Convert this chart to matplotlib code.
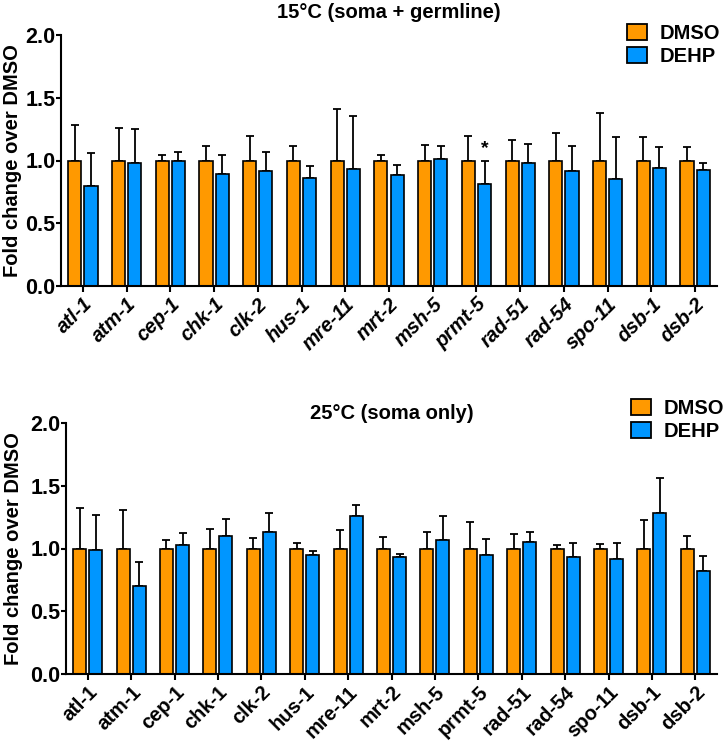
import numpy as np
import matplotlib
matplotlib.use("Agg")
import matplotlib.pyplot as plt
from matplotlib.patches import Patch

plt.rcParams['font.family'] = ['Liberation Sans', 'DejaVu Sans']
plt.rcParams['font.weight'] = 'bold'

genes = ["atl-1", "atm-1", "cep-1", "chk-1", "clk-2", "hus-1", "mre-11", "mrt-2",
         "msh-5", "prmt-5", "rad-51", "rad-54", "spo-11", "dsb-1", "dsb-2"]

# 15°C (soma + germline)
dmso_15 = [1.0] * 15
dmso_15_err = [0.28, 0.256, 0.046, 0.113, 0.195, 0.113, 0.413, 0.044, 0.123, 0.195, 0.163, 0.219, 0.381, 0.185, 0.105]
dehp_15 = [0.80, 0.983, 0.995, 0.89, 0.914, 0.863, 0.935, 0.882, 1.009, 0.813, 0.983, 0.914, 0.855, 0.94, 0.927]
dehp_15_top = [1.06, 1.248, 1.07, 1.04, 1.068, 0.954, 1.352, 0.961, 1.115, 0.996, 1.129, 1.115, 1.19, 1.108, 0.983]

# 25°C (soma only)
dmso_25 = [1.0] * 15
dmso_25_err = [0.325, 0.309, 0.067, 0.152, 0.081, 0.041, 0.144, 0.094, 0.131, 0.213, 0.118, 0.025, 0.033, 0.226, 0.099]
dehp_25 = [0.985, 0.705, 1.03, 1.099, 1.134, 0.946, 1.261, 0.932, 1.068, 0.951, 1.049, 0.935, 0.917, 1.282, 0.821]
dehp_25_top = [1.266, 0.89, 1.126, 1.234, 1.279, 0.98, 1.348, 0.959, 1.261, 1.073, 1.134, 1.041, 1.046, 1.56, 0.938]

sig_15 = {"prmt-5": "*"}

ORANGE = "#FF9900"
BLUE = "#0096FF"

W, H = 724, 743
fig = plt.figure(figsize=(W / 100, H / 100), dpi=100)
ax1 = fig.add_axes([61 / W, 1 - 286 / H, 656 / W, 251 / H])
ax2 = fig.add_axes([66 / W, 1 - 674 / H, 651 / W, 251 / H])

def draw(ax, dmso, dmso_err, dehp, dehp_top, title, pad, leg_xy, ylab_x, xstyle, sig=None):
    x = np.arange(len(genes))
    w = 0.30
    off = 0.185
    dehp_err = [t - v for t, v in zip(dehp_top, dehp)]
    ax.bar(x - off, dmso, w, color=ORANGE, edgecolor='black', linewidth=1.2, zorder=2)
    ax.bar(x + off, dehp, w, color=BLUE, edgecolor='black', linewidth=1.2, zorder=2)
    ax.errorbar(x - off, dmso, yerr=[np.zeros(len(x)), dmso_err], fmt='none',
                ecolor='black', elinewidth=1.3, capsize=3, capthick=1.3, zorder=1)
    ax.errorbar(x + off, dehp, yerr=[np.zeros(len(x)), dehp_err], fmt='none',
                ecolor='black', elinewidth=1.3, capsize=3, capthick=1.3, zorder=1)
    if sig:
        for g, s in sig.items():
            i = genes.index(g)
            ax.text(i + off, dehp_top[i] + 0.03, s, ha='center', va='bottom', fontsize=14, fontweight='bold')
    ax.set_xlim(-0.5, len(genes) - 0.5)
    ax.set_ylim(0, 2.0)
    ax.set_yticks([0.0, 0.5, 1.0, 1.5, 2.0])
    ax.set_yticklabels(["0.0", "0.5", "1.0", "1.5", "2.0"], fontsize=15.5, fontweight='bold')
    ax.set_xticks(x)
    ax.set_xticklabels(genes, rotation=45, ha='right', rotation_mode='anchor',
                       fontsize=14.5, fontweight='bold', fontstyle=xstyle)
    ax.spines['top'].set_visible(False)
    ax.spines['right'].set_visible(False)
    ax.spines['left'].set_linewidth(1.5)
    ax.spines['bottom'].set_linewidth(1.5)
    ax.tick_params(axis='x', width=1.5, length=4, pad=2)
    ax.tick_params(axis='y', width=1.5, length=3.5, pad=0.5)
    ax.set_ylabel("Fold change over DMSO", fontsize=14.5, fontweight='bold')
    ax.yaxis.set_label_coords(ylab_x, 0.5)
    ax.set_title(title, fontsize=14.5, fontweight='bold', pad=pad)
    handles = [Patch(facecolor=ORANGE, edgecolor='black', linewidth=1.3, label='DMSO'),
               Patch(facecolor=BLUE, edgecolor='black', linewidth=1.3, label='DEHP')]
    fig.legend(handles=handles, loc='upper left', bbox_to_anchor=(leg_xy[0] / W, 1 - leg_xy[1] / H),
               bbox_transform=fig.transFigure, frameon=False,
               prop={'weight': 'bold', 'size': 14.5}, handlelength=1.0,
               handleheight=0.8, handletextpad=0.6, labelspacing=0.2,
               borderpad=0, borderaxespad=0)

draw(ax1, dmso_15, dmso_15_err, dehp_15, dehp_15_top, "15°C (soma + germline)", 12, (627, 24),
     (22 - 61) / 656, 'italic', sig_15)
draw(ax2, dmso_25, dmso_25_err, dehp_25, dehp_25_top, "25°C (soma only)", 3, (631, 399),
     (23 - 66) / 651, 'normal')

fig.savefig("out.png", dpi=100)
